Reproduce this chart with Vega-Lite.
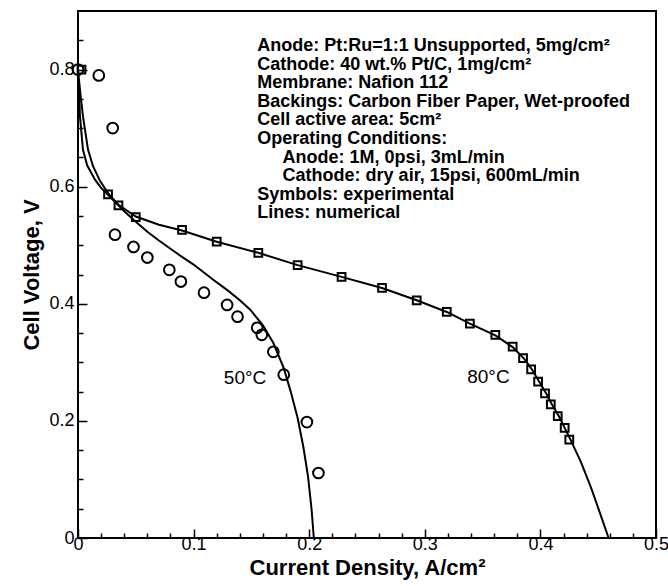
{
  "$schema": "https://vega.github.io/schema/vega-lite/v6.json",
  "autosize": {"type": "none"},
  "width": 578,
  "height": 527,
  "padding": {"left": 78, "top": 11, "right": 12, "bottom": 48},
  "background": "white",
  "config": {
    "font": "Liberation Sans",
    "view": {"stroke": "black", "strokeWidth": 2},
    "axis": {"grid": false, "domain": false, "tickColor": "black", "labelColor": "black", "titleColor": "black", "tickWidth": 1.5}
  },
  "datasets": {
    "curves": [
      {"series": "80C", "current": 0.0, "voltage": 0.80},
      {"series": "80C", "current": 0.002, "voltage": 0.76},
      {"series": "80C", "current": 0.0043, "voltage": 0.72},
      {"series": "80C", "current": 0.0087, "voltage": 0.663},
      {"series": "80C", "current": 0.013, "voltage": 0.635},
      {"series": "80C", "current": 0.019, "voltage": 0.61},
      {"series": "80C", "current": 0.026, "voltage": 0.589},
      {"series": "80C", "current": 0.035, "voltage": 0.569},
      {"series": "80C", "current": 0.05, "voltage": 0.549},
      {"series": "80C", "current": 0.07, "voltage": 0.535},
      {"series": "80C", "current": 0.09, "voltage": 0.525},
      {"series": "80C", "current": 0.12, "voltage": 0.506},
      {"series": "80C", "current": 0.156, "voltage": 0.487},
      {"series": "80C", "current": 0.19, "voltage": 0.466},
      {"series": "80C", "current": 0.228, "voltage": 0.446},
      {"series": "80C", "current": 0.263, "voltage": 0.427},
      {"series": "80C", "current": 0.293, "voltage": 0.406},
      {"series": "80C", "current": 0.319, "voltage": 0.386},
      {"series": "80C", "current": 0.339, "voltage": 0.366},
      {"series": "80C", "current": 0.361, "voltage": 0.346},
      {"series": "80C", "current": 0.376, "voltage": 0.326},
      {"series": "80C", "current": 0.386, "voltage": 0.306},
      {"series": "80C", "current": 0.393, "voltage": 0.287},
      {"series": "80C", "current": 0.399, "voltage": 0.267},
      {"series": "80C", "current": 0.405, "voltage": 0.247},
      {"series": "80C", "current": 0.41, "voltage": 0.228},
      {"series": "80C", "current": 0.416, "voltage": 0.208},
      {"series": "80C", "current": 0.421, "voltage": 0.188},
      {"series": "80C", "current": 0.426, "voltage": 0.168},
      {"series": "80C", "current": 0.435, "voltage": 0.13},
      {"series": "80C", "current": 0.444, "voltage": 0.085},
      {"series": "80C", "current": 0.452, "voltage": 0.04},
      {"series": "80C", "current": 0.459, "voltage": 0.0},
      {"series": "50C", "current": 0.0, "voltage": 0.79},
      {"series": "50C", "current": 0.001, "voltage": 0.76},
      {"series": "50C", "current": 0.0017, "voltage": 0.72},
      {"series": "50C", "current": 0.0043, "voltage": 0.663},
      {"series": "50C", "current": 0.008, "voltage": 0.636},
      {"series": "50C", "current": 0.0147, "voltage": 0.612},
      {"series": "50C", "current": 0.02, "voltage": 0.598},
      {"series": "50C", "current": 0.026, "voltage": 0.586},
      {"series": "50C", "current": 0.03, "voltage": 0.578},
      {"series": "50C", "current": 0.04, "voltage": 0.558},
      {"series": "50C", "current": 0.05, "voltage": 0.54},
      {"series": "50C", "current": 0.06, "voltage": 0.523},
      {"series": "50C", "current": 0.07, "voltage": 0.508},
      {"series": "50C", "current": 0.08, "voltage": 0.494},
      {"series": "50C", "current": 0.09, "voltage": 0.48},
      {"series": "50C", "current": 0.1, "voltage": 0.467},
      {"series": "50C", "current": 0.117, "voltage": 0.441},
      {"series": "50C", "current": 0.13, "voltage": 0.422},
      {"series": "50C", "current": 0.14, "voltage": 0.406},
      {"series": "50C", "current": 0.149, "voltage": 0.39},
      {"series": "50C", "current": 0.16, "voltage": 0.363},
      {"series": "50C", "current": 0.169, "voltage": 0.333},
      {"series": "50C", "current": 0.178, "voltage": 0.29},
      {"series": "50C", "current": 0.184, "voltage": 0.25},
      {"series": "50C", "current": 0.19, "voltage": 0.205},
      {"series": "50C", "current": 0.195, "voltage": 0.155},
      {"series": "50C", "current": 0.199, "voltage": 0.105},
      {"series": "50C", "current": 0.202, "voltage": 0.05},
      {"series": "50C", "current": 0.204, "voltage": 0.0}
    ],
    "experiments": [
      {"series": "80C", "current": 0.003, "voltage": 0.80},
      {"series": "80C", "current": 0.026, "voltage": 0.587},
      {"series": "80C", "current": 0.035, "voltage": 0.568},
      {"series": "80C", "current": 0.05, "voltage": 0.548},
      {"series": "80C", "current": 0.09, "voltage": 0.526},
      {"series": "80C", "current": 0.12, "voltage": 0.506},
      {"series": "80C", "current": 0.156, "voltage": 0.487},
      {"series": "80C", "current": 0.19, "voltage": 0.466},
      {"series": "80C", "current": 0.228, "voltage": 0.446},
      {"series": "80C", "current": 0.263, "voltage": 0.427},
      {"series": "80C", "current": 0.293, "voltage": 0.406},
      {"series": "80C", "current": 0.319, "voltage": 0.386},
      {"series": "80C", "current": 0.339, "voltage": 0.366},
      {"series": "80C", "current": 0.361, "voltage": 0.347},
      {"series": "80C", "current": 0.376, "voltage": 0.327},
      {"series": "80C", "current": 0.385, "voltage": 0.307},
      {"series": "80C", "current": 0.392, "voltage": 0.288},
      {"series": "80C", "current": 0.398, "voltage": 0.267},
      {"series": "80C", "current": 0.404, "voltage": 0.247},
      {"series": "80C", "current": 0.409, "voltage": 0.228},
      {"series": "80C", "current": 0.415, "voltage": 0.208},
      {"series": "80C", "current": 0.421, "voltage": 0.188},
      {"series": "80C", "current": 0.425, "voltage": 0.168},
      {"series": "50C", "current": 0.0, "voltage": 0.80},
      {"series": "50C", "current": 0.018, "voltage": 0.79},
      {"series": "50C", "current": 0.03, "voltage": 0.70},
      {"series": "50C", "current": 0.032, "voltage": 0.518},
      {"series": "50C", "current": 0.048, "voltage": 0.497},
      {"series": "50C", "current": 0.06, "voltage": 0.479},
      {"series": "50C", "current": 0.079, "voltage": 0.458},
      {"series": "50C", "current": 0.089, "voltage": 0.438},
      {"series": "50C", "current": 0.109, "voltage": 0.419},
      {"series": "50C", "current": 0.129, "voltage": 0.398},
      {"series": "50C", "current": 0.138, "voltage": 0.378},
      {"series": "50C", "current": 0.155, "voltage": 0.359},
      {"series": "50C", "current": 0.159, "voltage": 0.347},
      {"series": "50C", "current": 0.169, "voltage": 0.318},
      {"series": "50C", "current": 0.178, "voltage": 0.279},
      {"series": "50C", "current": 0.198, "voltage": 0.198},
      {"series": "50C", "current": 0.208, "voltage": 0.111}
    ],
    "labels": [
      {"label": "50°C", "current": 0.1445, "voltage": 0.273},
      {"label": "80°C", "current": 0.355, "voltage": 0.275}
    ],
    "notes": [
      {"line": "Anode: Pt:Ru=1:1 Unsupported, 5mg/cm²", "current": 0.155, "voltage": 0.8316},
      {"line": "Cathode: 40 wt.% Pt/C, 1mg/cm²", "current": 0.155, "voltage": 0.7998},
      {"line": "Membrane: Nafion 112", "current": 0.155, "voltage": 0.7681},
      {"line": "Backings: Carbon Fiber Paper, Wet-proofed", "current": 0.155, "voltage": 0.7363},
      {"line": "Cell active area: 5cm²", "current": 0.155, "voltage": 0.7046},
      {"line": "Operating Conditions:", "current": 0.155, "voltage": 0.6728},
      {"line": "Anode: 1M, 0psi, 3mL/min", "current": 0.177, "voltage": 0.6410},
      {"line": "Cathode: dry air, 15psi, 600mL/min", "current": 0.177, "voltage": 0.6093},
      {"line": "Symbols: experimental", "current": 0.155, "voltage": 0.5775},
      {"line": "Lines: numerical", "current": 0.155, "voltage": 0.5458}
    ]
  },
  "resolve": {"axis": {"x": "independent", "y": "independent"}},
  "layer": [
    {
      "data": {"name": "curves"},
      "mark": {"type": "line", "color": "black", "strokeWidth": 2},
      "encoding": {
        "x": {"field": "current", "type": "quantitative",
          "scale": {"domain": [0, 0.5], "nice": false, "zero": false},
          "axis": {"orient": "bottom", "values": [0, 0.1, 0.2, 0.3, 0.4, 0.5], "tickSize": -9,
            "labelExpr": "datum.value == 0 ? '0' : format(datum.value, '.1f')",
            "labelFontSize": 18, "labelPadding": 6, "labelFlush": false,
            "title": "Current Density, A/cm²", "titleFontSize": 22, "titleFontWeight": "bold", "titlePadding": 4}},
        "y": {"field": "voltage", "type": "quantitative",
          "scale": {"domain": [0, 0.9], "nice": false, "zero": false},
          "axis": {"orient": "left", "values": [0, 0.2, 0.4, 0.6, 0.8], "tickSize": -9,
            "labelExpr": "datum.value == 0 ? '0' : format(datum.value, '.1f')",
            "labelFontSize": 18, "labelPadding": 13, "labelFlush": false,
            "title": "Cell Voltage, V", "titleFontSize": 22, "titleFontWeight": "bold", "titlePadding": 5}},
        "detail": {"field": "series", "type": "nominal"},
        "order": {"field": "voltage", "sort": "descending"}
      }
    },
    {
      "data": {"name": "experiments"},
      "transform": [{"filter": "datum.series == '80C'"}],
      "mark": {"type": "point", "shape": "square", "filled": false, "color": "black", "strokeWidth": 2, "size": 60, "opacity": 1},
      "encoding": {
        "x": {"field": "current", "type": "quantitative",
          "axis": {"orient": "bottom", "values": [0.02, 0.04, 0.06, 0.08, 0.12, 0.14, 0.16, 0.18, 0.22, 0.24, 0.26, 0.28, 0.32, 0.34, 0.36, 0.38, 0.42, 0.44, 0.46, 0.48],
            "tickSize": -5, "labels": false, "title": null}},
        "y": {"field": "voltage", "type": "quantitative",
          "axis": {"orient": "left", "values": [0.05, 0.1, 0.15, 0.25, 0.3, 0.35, 0.45, 0.5, 0.55, 0.65, 0.7, 0.75, 0.85],
            "tickSize": -5, "labels": false, "title": null}}
      }
    },
    {
      "data": {"name": "experiments"},
      "transform": [{"filter": "datum.series == '50C'"}],
      "mark": {"type": "point", "shape": "circle", "filled": false, "color": "black", "strokeWidth": 2, "size": 115, "opacity": 1},
      "encoding": {
        "x": {"field": "current", "type": "quantitative", "axis": null},
        "y": {"field": "voltage", "type": "quantitative", "axis": null}
      }
    },
    {
      "data": {"name": "labels"},
      "mark": {"type": "text", "fontSize": 19, "color": "black", "align": "center", "baseline": "middle"},
      "encoding": {
        "x": {"field": "current", "type": "quantitative", "axis": null},
        "y": {"field": "voltage", "type": "quantitative", "axis": null},
        "text": {"field": "label"}
      }
    },
    {
      "data": {"name": "notes"},
      "mark": {"type": "text", "fontSize": 18, "fontWeight": "bold", "color": "black", "align": "left", "baseline": "alphabetic"},
      "encoding": {
        "x": {"field": "current", "type": "quantitative", "axis": null},
        "y": {"field": "voltage", "type": "quantitative", "axis": null},
        "text": {"field": "line"}
      }
    }
  ]
}
